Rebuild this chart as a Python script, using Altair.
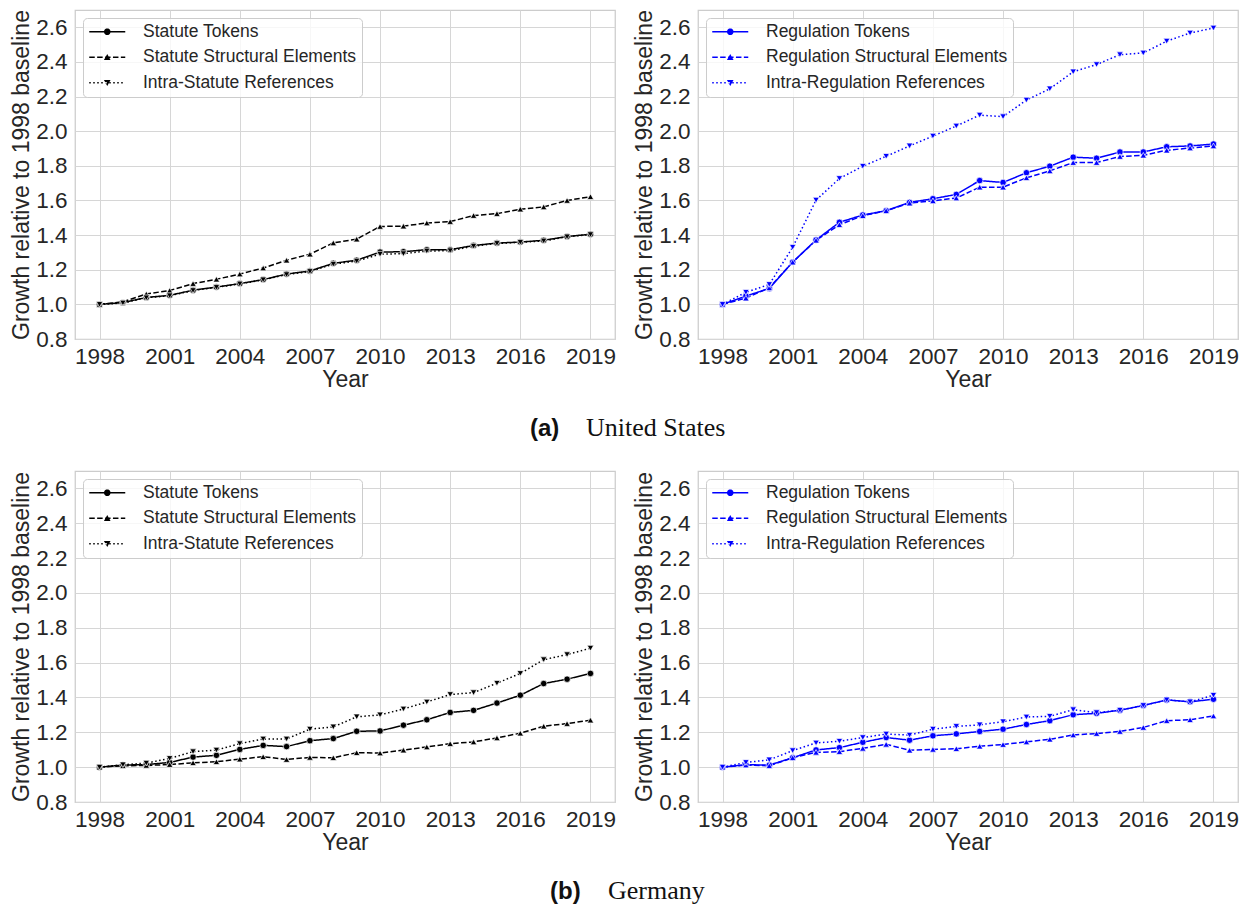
import math
import altair as alt
import pandas as pd

# ---------------- data ----------------
years = list(range(1998, 2020))
x_tick_values = [1998, 2001, 2004, 2007, 2010, 2013, 2016, 2019]
y_tick_values = [0.8, 1.0, 1.2, 1.4, 1.6, 1.8, 2.0, 2.2, 2.4, 2.6]

statute_series = ["Statute Tokens", "Statute Structural Elements", "Intra-Statute References"]
regulation_series = ["Regulation Tokens", "Regulation Structural Elements", "Intra-Regulation References"]

us_statute_tokens = [1.000, 1.010, 1.040, 1.052, 1.082, 1.100, 1.120, 1.143, 1.175, 1.193, 1.237,
                     1.255, 1.302, 1.304, 1.316, 1.316, 1.340, 1.354, 1.360, 1.370, 1.392, 1.405]
us_statute_struct = [1.000, 1.015, 1.060, 1.080, 1.120, 1.145, 1.175, 1.210, 1.255, 1.290, 1.355,
                     1.377, 1.450, 1.452, 1.470, 1.478, 1.513, 1.524, 1.550, 1.563, 1.600, 1.622]
us_statute_refs = [1.000, 1.008, 1.038, 1.050, 1.080, 1.098, 1.118, 1.142, 1.172, 1.190, 1.232,
                   1.250, 1.290, 1.293, 1.308, 1.310, 1.336, 1.352, 1.358, 1.366, 1.390, 1.403]

us_reg_tokens = [1.000, 1.048, 1.092, 1.244, 1.372, 1.474, 1.516, 1.541, 1.589, 1.610, 1.635,
                 1.715, 1.704, 1.760, 1.798, 1.850, 1.844, 1.880, 1.880, 1.910, 1.915, 1.926]
us_reg_struct = [1.000, 1.036, 1.096, 1.244, 1.370, 1.460, 1.512, 1.541, 1.585, 1.598, 1.614,
                 1.677, 1.677, 1.731, 1.771, 1.819, 1.819, 1.854, 1.861, 1.890, 1.903, 1.915]
us_reg_refs = [1.000, 1.070, 1.115, 1.330, 1.602, 1.727, 1.798, 1.855, 1.915, 1.972, 2.030,
               2.093, 2.084, 2.180, 2.245, 2.343, 2.385, 2.442, 2.452, 2.520, 2.567, 2.596]

de_statute_tokens = [1.000, 1.012, 1.015, 1.027, 1.058, 1.068, 1.102, 1.125, 1.118, 1.152, 1.164,
                     1.206, 1.208, 1.241, 1.272, 1.314, 1.326, 1.368, 1.413, 1.480, 1.505, 1.538]
de_statute_struct = [1.000, 1.008, 1.010, 1.015, 1.025, 1.031, 1.046, 1.060, 1.044, 1.056, 1.054,
                     1.083, 1.081, 1.098, 1.116, 1.135, 1.145, 1.168, 1.195, 1.235, 1.250, 1.270]
de_statute_refs = [1.000, 1.014, 1.023, 1.050, 1.089, 1.098, 1.135, 1.162, 1.162, 1.218, 1.231,
                   1.289, 1.300, 1.334, 1.374, 1.417, 1.428, 1.482, 1.538, 1.617, 1.646, 1.683]

de_reg_tokens = [1.000, 1.014, 1.012, 1.054, 1.099, 1.112, 1.143, 1.170, 1.155, 1.180, 1.191,
                 1.205, 1.218, 1.245, 1.267, 1.301, 1.309, 1.327, 1.354, 1.386, 1.375, 1.390]
de_reg_struct = [1.000, 1.012, 1.008, 1.054, 1.085, 1.089, 1.108, 1.131, 1.097, 1.102, 1.106,
                 1.120, 1.130, 1.145, 1.160, 1.185, 1.193, 1.205, 1.228, 1.267, 1.272, 1.294]
de_reg_refs = [1.000, 1.027, 1.042, 1.095, 1.139, 1.149, 1.170, 1.190, 1.184, 1.218, 1.234,
               1.243, 1.261, 1.288, 1.292, 1.330, 1.313, 1.327, 1.354, 1.386, 1.375, 1.413]

x_title = "Year"
y_title = "Growth relative to 1998 baseline"
caption_a_tag, caption_a_text = "(a)", "United States"
caption_b_tag, caption_b_text = "(b)", "Germany"

# ---------------- style ----------------
BLACK = "#000000"
BLUE = "#0000ff"
TEXT = "#262626"
FONT = "Liberation Sans"
PLOT_W = 540

DASHES = [[1, 0], [5.5, 2.4], [1.5, 2.5]]
LEG_SIZE = 144          # legend symbol size -> unit = sqrt(144)/2 = 6 px
LEG_UNIT = 6.0
LEG_HALF = 18.0         # half length of legend line in px
LEG_LW = 1.5            # legend line thickness in px


def legend_path(dash, marker):
    """Legend glyph: line (drawn as thin filled bars) with a marker in the middle."""
    u = LEG_UNIT
    h = LEG_LW / 2 / u
    segs = []
    pieces = []
    if dash is None:
        pieces.append((-LEG_HALF, LEG_HALF))
    else:
        on, off = dash
        x = -LEG_HALF
        while x < LEG_HALF - 0.01:
            pieces.append((x, min(x + on, LEG_HALF)))
            x += on + off
    for a, b in pieces:
        segs.append(f"M{a / u:.3f},{-h:.3f}L{b / u:.3f},{-h:.3f}L{b / u:.3f},{h:.3f}L{a / u:.3f},{h:.3f}Z")
    r = 3.3 / u
    if marker == "circle":
        pts = [(r * math.cos(2 * math.pi * k / 20), r * math.sin(2 * math.pi * k / 20)) for k in range(20)]
        segs.append("M" + "L".join(f"{px:.3f},{py:.3f}" for px, py in pts) + "Z")
    elif marker == "up":
        segs.append(f"M0,{-r:.3f}L{r:.3f},{r * 0.8:.3f}L{-r:.3f},{r * 0.8:.3f}Z")
    else:
        segs.append(f"M0,{r:.3f}L{r:.3f},{-r * 0.8:.3f}L{-r:.3f},{-r * 0.8:.3f}Z")
    return "".join(segs)


LEGEND_PATHS = [legend_path(None, "circle"), legend_path((5.5, 2.4), "up"), legend_path((1.5, 2.5), "down")]


def panel(names, series_values, color, height):
    records = []
    for name, vals in zip(names, series_values):
        for yr, v in zip(years, vals):
            records.append({"Year": yr, "value": v, "series": name})
    df = pd.DataFrame(records)

    x_enc = alt.X("Year:Q",
                  scale=alt.Scale(domain=[1996.95, 2020.05], nice=False, zero=False),
                  axis=alt.Axis(values=x_tick_values, format="d", title=x_title,
                                labelPadding=6, titlePadding=1))
    y_enc = alt.Y("value:Q",
                  scale=alt.Scale(domain=[0.8, 2.7], nice=False, zero=False),
                  axis=alt.Axis(values=y_tick_values, format=".1f", title=y_title,
                                labelPadding=8, titlePadding=2))

    lines = alt.Chart(df).mark_line(color=color, strokeWidth=1.5).encode(
        x=x_enc, y=y_enc,
        strokeDash=alt.StrokeDash("series:N", scale=alt.Scale(domain=names, range=DASHES), legend=None),
    )
    points = alt.Chart(df).mark_point(filled=True, size=42, fill=color, stroke="white",
                                      strokeWidth=0.7, opacity=1).encode(
        x=x_enc, y=y_enc,
        shape=alt.Shape("series:N",
                        scale=alt.Scale(domain=names, range=["circle", "triangle-up", "triangle-down"]),
                        legend=None),
    )
    # legend-only layer: no rows survive the filter, the legend comes from the explicit domain
    legend_layer = alt.Chart(df).transform_filter(
        alt.datum.Year < 0
    ).mark_point(filled=True, fill=color, size=LEG_SIZE, opacity=1).encode(
        x=x_enc, y=y_enc,
        shape=alt.Shape("series:N",
                        scale=alt.Scale(domain=names, range=LEGEND_PATHS),
                        legend=alt.Legend(title=None, orient="top-left", offset=8, padding=5,
                                          fillColor="rgba(255,255,255,0.8)", strokeColor="#cccccc",
                                          cornerRadius=4, labelFont=FONT, labelFontSize=17.5,
                                          labelColor=TEXT, labelLimit=500,
                                          symbolSize=LEG_SIZE, symbolStrokeWidth=0,
                                          symbolOffset=10.5, labelOffset=27, rowPadding=6.5,
                                          symbolOpacity=1, symbolFillColor=color)),
    )
    return alt.layer(lines, points, legend_layer).resolve_scale(shape="independent").properties(
        width=PLOT_W, height=height,
        view=alt.ViewBackground(stroke="#cccccc", strokeWidth=1.25),
    )


def caption(tag, text, width, height, base_y, tag_x, text_x):
    t1 = alt.Chart(pd.DataFrame({"t": [tag]})).mark_text(
        font=FONT, fontWeight="bold", fontSize=24, align="left", baseline="alphabetic", color="#111111"
    ).encode(text="t:N", x=alt.value(tag_x), y=alt.value(base_y))
    t2 = alt.Chart(pd.DataFrame({"t": [text]})).mark_text(
        font="Liberation Serif", fontSize=26, align="left", baseline="alphabetic", color="#111111"
    ).encode(text="t:N", x=alt.value(text_x), y=alt.value(base_y))
    return alt.layer(t1, t2).properties(width=width, height=height)


row_a = alt.hconcat(
    panel(statute_series, [us_statute_tokens, us_statute_struct, us_statute_refs], BLACK, 329),
    panel(regulation_series, [us_reg_tokens, us_reg_struct, us_reg_refs], BLUE, 329),
    spacing=16,
)
row_b = alt.hconcat(
    panel(statute_series, [de_statute_tokens, de_statute_struct, de_statute_refs], BLACK, 331),
    panel(regulation_series, [de_reg_tokens, de_reg_struct, de_reg_refs], BLUE, 331),
    spacing=16,
)
# caption x positions are measured from the left edge of the left plot area
cap_a = caption(caption_a_tag, caption_a_text, 1150, 75.5, 41.5, 455, 511)
cap_b = caption(caption_b_tag, caption_b_text, 1150, 40, 41.5, 475, 533)

chart = alt.vconcat(row_a, cap_a, row_b, cap_b, spacing=0).properties(
    padding={"left": 2, "top": 0, "right": 0, "bottom": 0}
).configure_view(
    stroke="transparent"
).configure_axis(
    labelFont=FONT, labelFontSize=22.5, labelColor=TEXT,
    titleFont=FONT, titleFontSize=23, titleColor=TEXT, titleFontWeight="normal",
    grid=True, gridColor="#d6d6d6", gridWidth=1,
    domain=False, ticks=False, tickSize=0, labelFlush=False,
)

chart.save("out.html", embed_options={"renderer": "svg", "actions": False})
